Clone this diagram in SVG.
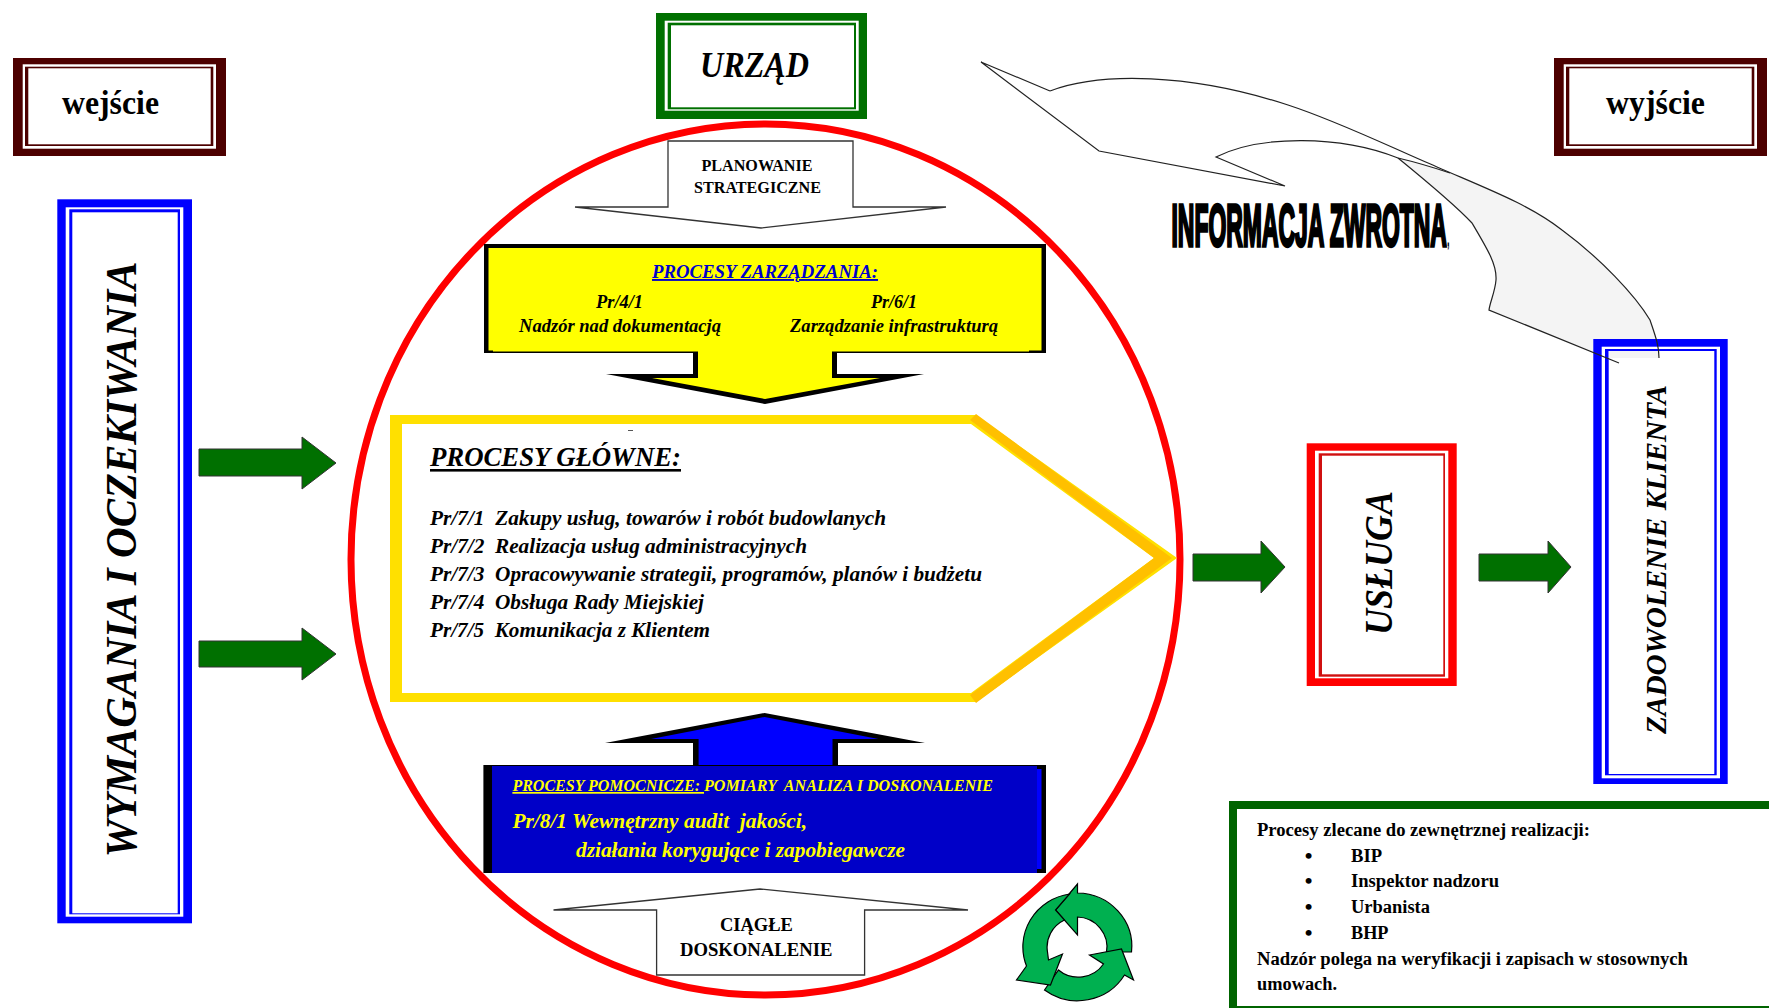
<svg xmlns="http://www.w3.org/2000/svg" width="1769" height="1008" viewBox="0 0 1769 1008">
<style>
text{font-family:"Liberation Serif","Times New Roman",serif;font-weight:bold;fill:#000}
.i{font-style:italic}
.m{text-anchor:middle}
.w{fill:#fff}
.g{fill:#007000;stroke:#333;stroke-width:1}
.br{fill:#4d0000}.bb{fill:#0000ff}.bg{fill:#007000}.brd{fill:#ff0000}
.o{fill:none;stroke:#222;stroke-width:1.2}
.y{fill:#ffff00}
.ye{fill:#ffe000}
.c{fill:#00b050;stroke:#000;stroke-width:1.2;stroke-linejoin:miter}
</style>
<rect width="1769" height="1008" fill="#fff"/>

<g id="wejscie">
<rect class="br" x="13" y="58" width="213" height="98"/><rect class="w" x="22.7" y="64.3" width="193.3" height="84.4"/><rect class="br" x="25" y="66.7" width="188.3" height="79.3"/><rect class="w" x="28.3" y="68.3" width="182.4" height="76"/>
<text x="62" y="114" font-size="34" textLength="97" lengthAdjust="spacingAndGlyphs">wejście</text>
</g>
<g id="wyjscie">
<rect class="br" x="1554" y="58" width="213" height="98"/><rect class="w" x="1563.7" y="64.3" width="193.3" height="84.4"/><rect class="br" x="1566" y="66.7" width="188.3" height="79.3"/><rect class="w" x="1569.3" y="68.3" width="182.4" height="76"/>
<text x="1606" y="114" font-size="34" textLength="99" lengthAdjust="spacingAndGlyphs">wyjście</text>
</g>
<g id="urzad">
<rect class="bg" x="656" y="13" width="211" height="106"/><rect class="w" x="664.7" y="20.7" width="194" height="90"/><rect class="bg" x="667.7" y="22.7" width="188.3" height="86.6"/><rect class="w" x="671" y="25.3" width="183" height="82"/>
<text class="i" x="700" y="77" font-size="35" textLength="109" lengthAdjust="spacingAndGlyphs">URZĄD</text>
</g>
<g id="wymagania">
<rect class="bb" x="57.3" y="199.3" width="134.7" height="724"/><rect class="w" x="65.7" y="207.3" width="117.6" height="709.4"/><rect class="bb" x="69.3" y="209.3" width="110.7" height="705"/><rect class="w" x="72.3" y="212.3" width="105.4" height="701"/>
<text class="i m" transform="translate(136 559.5) rotate(-90)" font-size="44" textLength="596" lengthAdjust="spacingAndGlyphs">WYMAGANIA I OCZEKIWANIA</text>
</g>

<g id="obwod"><ellipse cx="765.5" cy="559.5" rx="414.5" ry="435.5" fill="none" stroke="#ff0000" stroke-width="7"/></g>

<g id="planowanie">
<polygon points="668,141 853,141 853,207 946,207 761,228 575,207 668,207" fill="#fff" stroke="#333" stroke-width="1.3"/>
<text class="m" x="757" y="171" font-size="16.5" textLength="111" lengthAdjust="spacingAndGlyphs">PLANOWANIE</text>
<text class="m" x="757.5" y="193" font-size="16.5" textLength="127" lengthAdjust="spacingAndGlyphs">STRATEGICZNE</text>
</g>

<g id="procesy-zarzadzania">
<rect x="484" y="244" width="562" height="109" fill="#000"/>
<rect class="y" x="488.5" y="248" width="553" height="102.5"/>
<rect class="y" x="493" y="350" width="536" height="1.5"/>
<polygon points="693,352 837,352 837,374 924,374 765,404 606,374 693,374" fill="#000"/>
<polygon class="y" points="698,350 832,350 832,378 880,378 765,399 652,378 698,378"/>
<text class="i" x="652" y="278" font-size="19" style="fill:#0000cc;text-decoration:underline" textLength="226" lengthAdjust="spacingAndGlyphs">PROCESY ZARZĄDZANIA:</text>
<text class="i m" x="619.5" y="308" font-size="19" textLength="47" lengthAdjust="spacingAndGlyphs">Pr/4/1</text>
<text class="i" x="519" y="332" font-size="19" textLength="202" lengthAdjust="spacingAndGlyphs">Nadzór nad dokumentacją</text>
<text class="i m" x="894" y="308" font-size="19" textLength="46" lengthAdjust="spacingAndGlyphs">Pr/6/1</text>
<text class="i" x="790" y="332" font-size="19" textLength="208" lengthAdjust="spacingAndGlyphs">Zarządzanie infrastrukturą</text>
</g>

<g id="procesy-glowne">
<path class="ye" fill-rule="evenodd" d="M390,415H976L1177,558L976,702H390ZM402,424V693H971L1154,558L971,424Z"/>
<polygon points="976,414 1172,558 976,703 970,695 1154,558 970,420" fill="#ffc000"/>
<rect x="628" y="430" width="5" height="1" fill="#555"/>
<text class="i" x="430" y="466" font-size="28" textLength="251" lengthAdjust="spacingAndGlyphs">PROCESY GŁÓWNE:</text>
<rect x="430" y="469" width="251" height="2.6" fill="#000"/>
<text class="i" xml:space="preserve" x="430" y="525" font-size="21.5" textLength="456" lengthAdjust="spacingAndGlyphs">Pr/7/1  Zakupy usług, towarów i robót budowlanych</text>
<text class="i" xml:space="preserve" x="430" y="553" font-size="21.5" textLength="377" lengthAdjust="spacingAndGlyphs">Pr/7/2  Realizacja usług administracyjnych</text>
<text class="i" xml:space="preserve" x="430" y="581" font-size="21.5" textLength="552" lengthAdjust="spacingAndGlyphs">Pr/7/3  Opracowywanie strategii, programów, planów i budżetu</text>
<text class="i" xml:space="preserve" x="430" y="609" font-size="21.5" textLength="274" lengthAdjust="spacingAndGlyphs">Pr/7/4  Obsługa Rady Miejskiej</text>
<text class="i" xml:space="preserve" x="430" y="637" font-size="21.5" textLength="280" lengthAdjust="spacingAndGlyphs">Pr/7/5  Komunikacja z Klientem</text>
</g>

<g id="procesy-pomocnicze">
<polygon points="764.6,713 925,743 838,743 838,766 693,766 693,743 605,743" fill="#000"/>
<polygon points="764.6,717 878.5,739 832.5,739 832.5,766 698.6,766 698.6,739 651,739" fill="#0000ff"/>
<rect x="483.4" y="765" width="562.6" height="108" fill="#000"/>
<rect x="492" y="766" width="545" height="107" fill="#0000c8"/>
<rect x="1037" y="769" width="4.5" height="100" fill="#0000ff"/>
<text class="i" xml:space="preserve" x="512.4" y="791" font-size="17" style="fill:#ffff00;text-decoration:underline" textLength="191.6" lengthAdjust="spacingAndGlyphs">PROCESY POMOCNICZE: </text>
<text class="i" xml:space="preserve" x="704" y="791" font-size="17" style="fill:#ffff00" textLength="289" lengthAdjust="spacingAndGlyphs">POMIARY  ANALIZA I DOSKONALENIE</text>
<text class="i" xml:space="preserve" x="512.4" y="828" font-size="21.5" style="fill:#ffff00" textLength="294.6" lengthAdjust="spacingAndGlyphs">Pr/8/1 Wewnętrzny audit  jakości,</text>
<text class="i" x="576" y="857" font-size="21.5" style="fill:#ffff00" textLength="329" lengthAdjust="spacingAndGlyphs">działania korygujące i zapobiegawcze</text>
</g>

<g id="ciagle-doskonalenie">
<polygon points="760,889 968,910 864.6,910 864.6,975 656.6,975 656.6,910 553.5,910" fill="#fff" stroke="#333" stroke-width="1.3"/>
<text class="m" x="756.4" y="931" font-size="18" textLength="73" lengthAdjust="spacingAndGlyphs">CIĄGŁE</text>
<text class="m" x="756.2" y="956" font-size="18" textLength="152.5" lengthAdjust="spacingAndGlyphs">DOSKONALENIE</text>
</g>

<g id="cykl" transform="translate(-3.5 0)">
<path class="c" d="M1081,884L1059,910L1081,935V917A30.5,30 0 0 1 1110,952L1135,952A55,53.5 0 0 0 1081,893Z"/>
<path class="c" d="M1093,955L1125,949L1137,980L1128,975A55,53.5 0 0 1 1048,990L1062,970A30.5,30 0 0 0 1107,964Z"/>
<path class="c" d="M1066,954L1054,985L1020,980L1030,966A55,53.5 0 0 1 1073,894L1059,910L1068,920A30.5,30 0 0 0 1051,952L1052,960Z"/>
</g>

<g id="usluga">
<rect class="brd" x="1306.7" y="443.3" width="150" height="242.7"/><rect class="w" x="1315" y="450.7" width="133.3" height="227.6"/><rect fill="#d01010" x="1318.7" y="453.3" width="126.3" height="223.4"/><rect class="w" x="1322" y="455.7" width="121.3" height="218.6"/>
<text class="i m" transform="translate(1392 563) rotate(-90)" font-size="40" textLength="144" lengthAdjust="spacingAndGlyphs">USŁUGA</text>
</g>

<g id="informacja-zwrotna">
<path d="M1398,158C1415,162 1432,167 1450,173C1490,190 1530,205 1562,230C1600,258 1635,295 1650,320C1655,335 1659,345 1659,358L1619,363L1489,310C1490,302 1495,292 1496,280C1497,265 1488,250 1472,223C1455,205 1425,180 1398,158Z" fill="#f4f4f4"/>
</g>

<g id="zadowolenie">
<rect class="bb" x="1593.3" y="339" width="134.4" height="445"/><rect class="w" x="1601.7" y="346.7" width="118.3" height="431.6"/><rect class="bb" x="1605" y="349" width="111.7" height="426.3"/><rect class="w" x="1608.7" y="351" width="105.6" height="423"/>
<rect x="1608.7" y="351" width="50.3" height="7" fill="#f4f4f4"/>
<text class="i m" transform="translate(1666 559.5) rotate(-90)" font-size="30" textLength="349" lengthAdjust="spacingAndGlyphs">ZADOWOLENIE KLIENTA</text>
</g>

<g id="strzalka-zwrotna">
<path class="o" d="M1050,91L981,62L1099,151L1285,186L1216,157C1260,135 1340,135 1398,158C1415,162 1432,167 1450,173"/>
<path class="o" d="M1050,91C1100,72 1190,73 1288,105C1340,122 1390,147 1437,167C1490,190 1530,205 1562,230C1600,258 1635,295 1650,320C1655,335 1659,345 1659,358"/>
<path class="o" d="M1398,158C1425,180 1455,205 1472,223C1488,250 1497,265 1496,280C1495,292 1490,302 1489,310L1619,363"/>
<text x="1171.5" y="246" style="font-family:'Liberation Sans',Arial,sans-serif;stroke:#000;stroke-width:3.4" font-size="59" textLength="278" lengthAdjust="spacingAndGlyphs">INFORMACJA ZWROTNA<tspan font-size="24" style="stroke-width:0">,</tspan></text>
</g>

<g id="procesy-zewnetrzne">
<rect x="1229" y="801" width="540" height="207" fill="#006400"/>
<rect class="w" x="1237" y="809" width="532" height="197"/>
<text x="1257" y="836" font-size="18" textLength="333" lengthAdjust="spacingAndGlyphs">Procesy zlecane do zewnętrznej realizacji:</text>
<text class="m" x="1308.5" y="862.5" font-size="22">•</text><text x="1351" y="862" font-size="18" textLength="31" lengthAdjust="spacingAndGlyphs">BIP</text>
<text class="m" x="1308.5" y="888" font-size="22">•</text><text x="1351" y="887" font-size="18" textLength="148" lengthAdjust="spacingAndGlyphs">Inspektor nadzoru</text>
<text class="m" x="1308.5" y="914" font-size="22">•</text><text x="1351" y="913" font-size="18" textLength="79" lengthAdjust="spacingAndGlyphs">Urbanista</text>
<text class="m" x="1308.5" y="940" font-size="22">•</text><text x="1351" y="939" font-size="18" textLength="37.5" lengthAdjust="spacingAndGlyphs">BHP</text>
<text x="1257" y="965" font-size="18" textLength="431" lengthAdjust="spacingAndGlyphs">Nadzór polega na weryfikacji i zapisach w stosownych</text>
<text x="1257" y="990" font-size="18" textLength="80" lengthAdjust="spacingAndGlyphs">umowach.</text>
</g>

<g id="connectors">
<polygon class="g" points="199,449 302,449 302,437 336,463 302,489 302,476 199,476"/>
<polygon class="g" points="199,641 302,641 302,628 336,654 302,680 302,667 199,667"/>
<polygon class="g" points="1193,554 1261,554 1261,541 1285,567 1261,593 1261,581 1193,581"/>
<polygon class="g" points="1479,554 1548,554 1548,541 1571,567 1548,593 1548,581 1479,581"/>
</g>
</svg>
